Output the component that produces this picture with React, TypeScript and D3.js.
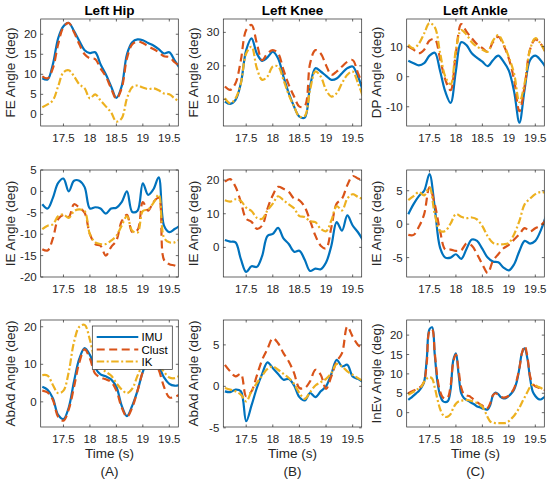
import React from 'react';
import * as d3 from 'd3';

// sample times (s)
const TIME = [17.1, 17.2, 17.3, 17.4, 17.5, 17.6, 17.7, 17.8, 17.9, 18.0, 18.1, 18.2, 18.3, 18.4,
  18.5, 18.6, 18.7, 18.8, 18.9, 19.0, 19.1, 19.2, 19.3, 19.4, 19.5, 19.6, 19.7];
const TIME_FINE = [17.1, 17.15, 17.2, 17.25, 17.3, 17.35, 17.4, 17.45, 17.5, 17.55, 17.6, 17.65, 17.7,
  17.75, 17.8, 17.85, 17.9, 17.95, 18.0, 18.05, 18.1, 18.15, 18.2, 18.25, 18.3, 18.35, 18.4, 18.45,
  18.5, 18.55, 18.6, 18.65, 18.7, 18.75, 18.8, 18.85, 18.9, 18.95, 19.0, 19.05, 19.1, 19.15, 19.2,
  19.25, 19.3, 19.35, 19.4, 19.45, 19.5, 19.55, 19.6, 19.65, 19.7];
const X_TICKS = [17.5, 18, 18.5, 19, 19.5];

const JOINTS = ['Left Hip', 'Left Knee', 'Left Ankle'];
const PANEL_TAGS = ['(A)', '(B)', '(C)'];
const SERIES = ['IMU', 'Clust', 'IK'];

// Hip
const HIP_FE_IMU = [9, 8.7, 12.5, 19, 22, 22.8, 20.8, 18.3, 16, 15.3, 15.5, 12.5, 10, 7, 4.1, 7, 15, 18, 18.7, 18.5, 17.8, 17.2, 16.3, 15.2, 15.5, 13.5, 11.5];
const HIP_FE_CLUST = [9.5, 9, 11.5, 17.5, 21.8, 22.8, 20.5, 17.5, 15, 14, 13.8, 11.5, 9.5, 6.5, 3.9, 6.5, 14, 17.5, 18.2, 17.8, 17, 16.3, 15.5, 14.5, 14.3, 13, 12];
const HIP_FE_IK = [1.8, 2.5, 3.5, 7, 10.5, 11, 9.5, 7.5, 6.5, 4, 5, 3.5, 2, 0.5, -1.8, -1, 4, 6.8, 7.2, 6.7, 6.3, 6.5, 6, 5.2, 5, 4, 3];

const HIP_IE_IMU = [-3, -4, -1.5, 2, 3, 0, 2.5, 2.5, 1, -4, -3.7, -4, -5.2, -4, -3.8, -2.5, 0, -4.8, -4.5, 1.9, -0.8, 0.5, 3.3, -8, -9.5, -8.8, -8];
const HIP_IE_CLUST = [-13.5, -13.8, -11, -6.5, -5.5, -6, -3, -3.8, -5, -10, -12.3, -12.7, -15, -13, -11.5, -7, -5.5, -9.5, -9, -2.5, -4.5, -2.5, -1.5, -16, -17, -17.3, -17.8];
const HIP_IE_IK = [-8.8, -8, -7.7, -5.8, -5.4, -6.2, -4.6, -4.2, -4.6, -10, -11.9, -12.3, -12.3, -11.5, -10.4, -8, -5.8, -9.2, -9.6, -4.6, -4.2, -2.7, -0.8, -10.8, -11.9, -11.9, -11.2];

const HIP_AA_IMU = [4, 3.2, 1, -3.5, -4.6, -1.5, 5.5, 11.5, 14.3, 12.5, 9, 7.3, 6.8, 6, 4, -1, -3.8, -1, 3, 8, 11, 11.5, 9.5, 6.5, 4.8, 4.3, 4.5];
const HIP_AA_CLUST = [3, 2.5, 0.5, -4, -5, -2, 4, 10.5, 14, 11.5, 7.5, 6.5, 6, 5.3, 3, -1.5, -4, -1.5, 3, 8, 11, 11, 8.5, 4, 1.2, 1.3, 2];
const HIP_AA_IK = [7.1, 7, 4.5, 2.3, 3, 8, 16, 20, 20.5, 16.5, 11, 9, 8, 7, 5, 3.3, 2.3, 3.5, 7, 10, 12, 12, 10, 8, 6.5, 6.3, 7];

// Knee
const KNEE_FE_IMU = [9.3, 8.6, 9.8, 14.8, 24.7, 28.2, 23.7, 21.5, 22.5, 24.2, 22.2, 16.8, 11.8, 7.8, 4.8, 4.5, 13.8, 19.3, 18.3, 17, 15.8, 16.2, 17.8, 19.3, 19.8, 16.8, 12];
const KNEE_FE_CLUST = [13.8, 12.8, 14.8, 21.7, 30.7, 32.2, 26.7, 21.7, 23.7, 24.7, 23.7, 18.8, 14.3, 10.8, 7.8, 8, 20.7, 24.7, 23.7, 20.2, 17.3, 18.3, 19.8, 21.2, 21.7, 17.8, 14];
const KNEE_FE_IK = [10.3, 8.8, 10.3, 14.8, 23.7, 25.7, 19.3, 15.8, 16.8, 19.8, 19.8, 15.8, 11.3, 7.8, 4.8, 5, 12.8, 18.3, 16.8, 12.8, 10.8, 11.8, 14.8, 17.3, 18.3, 14.8, 10.5];

const KNEE_IE_IMU = [2.2, 1.7, 1.5, -3.5, -7.3, -5.6, -5.8, -2.5, 3.4, 4, 5.8, 2.7, 1, -1.3, -1, -3.7, -7, -6.3, -6.5, -4.5, 0.5, 7.5, 5, 9.5, 6.5, 4.5, 2];
const KNEE_IE_CLUST = [19.5, 20.3, 18, 13.5, 8.5, 7.6, 5.5, 6.5, 11.5, 15.5, 18, 17.4, 16.5, 14.5, 14, 12, 8, 3.5, 0.5, -0.3, 6, 13, 14.5, 18.5, 21.2, 20.5, 19.8];
const KNEE_IE_IK = [14, 13.6, 14.3, 13.8, 11.8, 10.8, 8.8, 8.5, 11, 13, 15.2, 14, 12.8, 11.6, 9.3, 9, 7.8, 7.5, 5.5, 4.8, 8, 12.3, 11, 14.5, 15.8, 15, 14.3];

const KNEE_AA_IMU = [-0.6, -0.7, -0.4, -0.6, -4.2, -2.3, -0.2, 1.5, 2.9, 2.2, 1.5, 0.8, 0.9, 0.1, -1.3, -1.7, -0.8, -1.3, -0.6, 0, 1.5, 3.2, 2.4, 2.6, 1.2, 0.9, 0.5];
const KNEE_AA_CLUST = [2.6, 1.8, 1.2, 1.5, -1.2, -0.6, 1.3, 3.2, 4.5, 5.8, 5.2, 4, 3, 1.6, -0.2, -0.2, 0.6, 2, 1.4, -0.3, 1.2, 3, 4, 7.2, 6, 5, 4.5];
const KNEE_AA_IK = [-0.2, -0.4, -0.6, -1, -1.8, -0.6, 0.4, 1.3, 2.1, 2.4, 2, 1.5, 1, 0.3, -0.8, -1.5, -0.7, 0.1, 0.5, 0.9, 1.6, 2.7, 2.4, 1.8, 1.4, 1, 0.6];

// Ankle
const ANKLE_DP_IMU = [5.3, 4.5, 3.8, 4.5, 7, 8, 2, -5, -8.7, 2, 11.5, 10.5, 7.8, 6.3, 5, 3.5, 5.5, 7, 5, 2, -5, -15.3, -4, 5.5, 7, 5.5, 3];
const ANKLE_DP_CLUST = [10, 9, 7.8, 9, 12, 12.5, 6, -1, -4.5, 8, 17.5, 15, 12.8, 10.8, 9.5, 8.3, 11.5, 13.3, 10.5, 6, -1, -11.5, -3, 9, 12.4, 11, 8];
const ANKLE_DP_IK = [10.6, 9.4, 11, 14.4, 17.8, 16.5, 8, 0, -2.5, 9, 15.5, 14, 11.5, 10, 9, 8.3, 12, 13.8, 11, 6.5, 1, -8.5, -2, 9, 12.8, 11, 7.8];

const ANKLE_IE_IMU = [1.5, 3, 4.2, 5, 7.5, 2.5, -3.5, -5, -5, -4.5, -5.2, -3.7, -2.3, -2.5, -3.7, -5, -5.6, -5.7, -6.5, -6.9, -6, -4, -2.5, -2.9, -2.5, -1, 1.2];
const ANKLE_IE_CLUST = [-1.6, -1.6, -0.4, 1.5, 5.5, 3, -1, -3.8, -3.8, -4, -3.9, -2.9, -3.2, -4.5, -6, -7.3, -5.5, -4.5, -3.6, -3.1, -2.3, -1.5, -0.6, -1.1, -0.6, -0.2, 0.6];
const ANKLE_IE_IK = [3.6, 4.2, 4.8, 4.3, 5.5, 1.5, -1, -1, 0.1, 1.5, 1.1, 0.9, 1, 0.7, -0.3, -1.8, -2.8, -3, -3, -2.8, -1.5, 0.5, 3, 3.8, 4.5, 4.8, 4.7];

const ANKLE_IEV_IMU = [3.3, 3.8, 4.4, 5, 5.6, 6.5, 8, 14, 21.5, 22, 15, 8, 4.5, 3, 2.7, 3, 6, 13.5, 15.3, 10, 5, 3.8, 3.3, 2.9, 2.5, 2.1, 1.6, 1.4, 1.1, 0.9, 0.8, 2, 4.5, 5.2, 4.8, 4, 3.7, 3.8, 4.3, 5, 6, 8, 11.5, 15.5, 16.6, 14, 9, 5.5, 4.3, 3.6, 3.4, 3.8, 4.2];
const ANKLE_IEV_CLUST = [5, 5.4, 5.7, 6, 6.4, 6.9, 8, 13, 21, 21.5, 15.5, 9, 5.5, 4, 3.6, 4, 7, 13, 15, 11, 6.5, 4.8, 4.4, 4.3, 3.8, 3.3, 2.7, 2.2, 1.8, 1, 1.2, 2.5, 4.5, 5, 4.6, 4.1, 3.9, 4, 4.4, 5.2, 6.3, 8.5, 11.5, 15.5, 17.2, 14.5, 9.5, 7.5, 6.8, 6.5, 6.3, 6, 5.8];
const ANKLE_IEV_IK = [4.6, 5, 5.4, 5.8, 6.3, 6.8, 8, 8.8, 9.2, 8.8, 6.5, 3.5, 1, -0.5, -1.1, -1, -0.4, 1.2, 2.3, 2.9, 3.1, 3.2, 3.3, 3.2, 3, 2.8, 2.5, 2.1, 1.5, 0.3, -1.2, -2.3, -2.6, -2.7, -2.7, -2.7, -2.7, -2.6, -2.2, -1.5, -0.8, 0.2, 1.3, 2.7, 4, 5.3, 6.6, 7.2, 7, 6.7, 6.4, 6, 5.8];

const COLORS = ['#0072BD', '#D95319', '#EDB120'];
const DASHES = [null, '8,4.5', '7.5,2.5,2,2.5'];
const FONT = '"Liberation Sans", Arial, Helvetica, sans-serif';
const INK = '#262626';

const COLS = [[40.7, 178.3], [223.3, 361.7], [406.7, 544.3]];
const ROWS = [[19, 126], [170, 277], [320, 427]];

const PANELS = [
  { row: 0, col: 0, label: 'FE Angle (deg)', y: [-2.9, 23.8], ticks: [0, 5, 10, 15, 20], t: TIME, s: [HIP_FE_IMU, HIP_FE_CLUST, HIP_FE_IK] },
  { row: 0, col: 1, label: 'FE Angle (deg)', y: [2, 34], ticks: [10, 20, 30], t: TIME, s: [KNEE_FE_IMU, KNEE_FE_CLUST, KNEE_FE_IK] },
  { row: 0, col: 2, label: 'DP Angle (deg)', y: [-16.4, 19.2], ticks: [-10, 0, 10], t: TIME, s: [ANKLE_DP_IMU, ANKLE_DP_CLUST, ANKLE_DP_IK] },
  { row: 1, col: 0, label: 'IE Angle (deg)', y: [-20, 5], ticks: [-20, -15, -10, -5, 0, 5], t: TIME, s: [HIP_IE_IMU, HIP_IE_CLUST, HIP_IE_IK] },
  { row: 1, col: 1, label: 'IE Angle (deg)', y: [-8.8, 23], ticks: [0, 10, 20], t: TIME, s: [KNEE_IE_IMU, KNEE_IE_CLUST, KNEE_IE_IK] },
  { row: 1, col: 2, label: 'IE Angle (deg)', y: [-7.9, 8.1], ticks: [-5, 0, 5], t: TIME, s: [ANKLE_IE_IMU, ANKLE_IE_CLUST, ANKLE_IE_IK] },
  { row: 2, col: 0, label: 'AbAd Angle (deg)', y: [-6.7, 21.8], ticks: [0, 10, 20], t: TIME, s: [HIP_AA_IMU, HIP_AA_CLUST, HIP_AA_IK] },
  { row: 2, col: 1, label: 'AbAd Angle (deg)', y: [-4.9, 8], ticks: [-5, 0, 5], t: TIME, s: [KNEE_AA_IMU, KNEE_AA_CLUST, KNEE_AA_IK] },
  { row: 2, col: 2, label: 'InEv Angle (deg)', y: [-3.7, 23.9], ticks: [0, 5, 10, 15, 20], t: TIME_FINE, s: [ANKLE_IEV_IMU, ANKLE_IEV_CLUST, ANKLE_IEV_IK] },
];

const Panel = ({ p, i }: { p: any, i: number }) => {
  const [x0, x1] = COLS[p.col];
  const [y0, y1] = ROWS[p.row];
  const x = d3.scaleLinear().domain([17.07, 19.67]).range([x0, x1]);
  const y = d3.scaleLinear().domain(p.y).range([y1, y0]);
  const line = d3.line<number>()
    .x((_, k) => x(p.t[k]))
    .y(d => y(d))
    .curve(d3.curveCatmullRom.alpha(0.5));
  const clipId = `clip${i}`;
  return (
    <g>
      <clipPath id={clipId}>
        <rect x={x0} y={y0} width={x1 - x0} height={y1 - y0} />
      </clipPath>
      <rect x={x0} y={y0} width={x1 - x0} height={y1 - y0} fill="#fff" />
      <g clipPath={`url(#${clipId})`}>
        {[0, 1, 2].map(k => (
          <path key={k} d={line(p.s[k]) ?? ''} fill="none" stroke={COLORS[k]}
            strokeWidth={2.2} strokeDasharray={DASHES[k] ?? undefined} />
        ))}
      </g>
      <rect x={x0} y={y0} width={x1 - x0} height={y1 - y0} fill="none" stroke={INK} strokeWidth={0.7} />
      {X_TICKS.map(t => (
        <g key={t}>
          <line x1={x(t)} x2={x(t)} y1={y1} y2={y1 - 2.5} stroke={INK} strokeWidth={0.7} />
          <line x1={x(t)} x2={x(t)} y1={y0} y2={y0 + 2.5} stroke={INK} strokeWidth={0.7} />
          <text x={x(t)} y={y1 + 16} textAnchor="middle" fontSize={11.5} fill={INK}>{t}</text>
        </g>
      ))}
      {p.ticks.map((v: number) => (
        <g key={v}>
          <line x1={x0} x2={x0 + 2.5} y1={y(v)} y2={y(v)} stroke={INK} strokeWidth={0.7} />
          <line x1={x1} x2={x1 - 2.5} y1={y(v)} y2={y(v)} stroke={INK} strokeWidth={0.7} />
          <text x={x0 - 4} y={y(v) + 4} textAnchor="end" fontSize={11.5} fill={INK}>{v}</text>
        </g>
      ))}
      <text transform={`translate(${x0 - 25.5},${(y0 + y1) / 2}) rotate(-90)`} textAnchor="middle"
        fontSize={13.5} fill={INK}>{p.label}</text>
    </g>
  );
};

const Legend = () => {
  const rows = [337, 349.5, 361.5];
  return (
    <g>
      <rect x={92.3} y={326} width={80} height={43.5} fill="#fff" stroke={INK} strokeWidth={0.7} />
      {SERIES.map((name, k) => (
        <g key={name}>
          <line x1={96.7} x2={138.3} y1={rows[k]} y2={rows[k]} stroke={COLORS[k]} strokeWidth={2.2}
            strokeDasharray={DASHES[k] ?? undefined} />
          <text x={141.5} y={rows[k] + 4} fontSize={11.5} fill="#000">{name}</text>
        </g>
      ))}
    </g>
  );
};

export default function App() {
  return (
    <svg width={550} height={483} style={{ position: 'absolute', left: 0, top: 0, background: '#fff' }}
      fontFamily={FONT}>
      <rect width={550} height={483} fill="#fff" />
      {PANELS.map((p, i) => <Panel key={i} p={p} i={i} />)}
      {JOINTS.map((j, c) => (
        <text key={j} x={(COLS[c][0] + COLS[c][1]) / 2} y={15} textAnchor="middle" fontSize={13.5}
          fontWeight="bold" fill="#000">{j}</text>
      ))}
      {PANEL_TAGS.map((tag, c) => (
        <g key={tag}>
          <text x={(COLS[c][0] + COLS[c][1]) / 2} y={458} textAnchor="middle" fontSize={13.5} fill={INK}>Time (s)</text>
          <text x={(COLS[c][0] + COLS[c][1]) / 2} y={476} textAnchor="middle" fontSize={13.5} fill={INK}>{tag}</text>
        </g>
      ))}
      <Legend />
    </svg>
  );
}
